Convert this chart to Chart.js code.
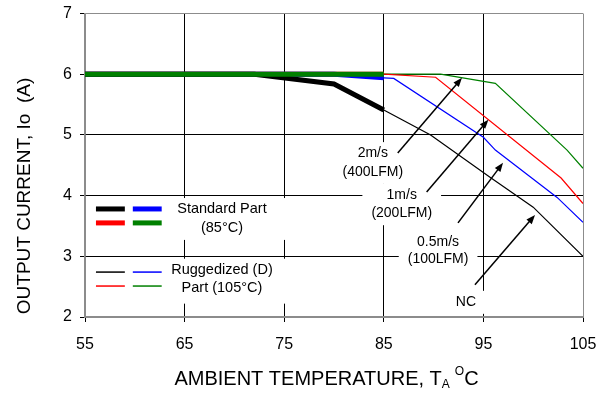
<!DOCTYPE html>
<html>
<head>
<meta charset="utf-8">
<script src="https://cdn.jsdelivr.net/npm/chart.js@4.4.0/dist/chart.umd.min.js"></script>
<style>
    html, body { margin: 0; padding: 0; background: #fff; }
    #wrap { width: 611px; height: 393px; }
</style>
</head>
<body>
<div id="wrap"><canvas id="deratingChart" width="611" height="393"></canvas></div>
<script>
// ambient temperature (C) / output current (A)
const stdNcTemp = [55, 72, 80, 85];
const stdNcAmps = [6, 6, 5.84, 5.41];
const stdBlueTemp = [55, 80, 85];
const stdBlueAmps = [6, 6, 5.94];
const stdRedTemp = [55, 85];
const stdRedAmps = [6, 6];
const stdGreenTemp = [55, 85];
const stdGreenAmps = [6, 6];

const rugNcTemp = [85, 89.7, 95.7, 100, 105];
const rugNcAmps = [5.41, 5.0, 4.3, 3.81, 3.0];
const rugBlueTemp = [85, 86, 95, 96.2, 102.4, 105];
const rugBlueAmps = [5.94, 5.93, 4.96, 4.75, 3.97, 3.56];
const rugRedTemp = [85, 90.2, 102.8, 105];
const rugRedAmps = [6, 5.95, 4.29, 3.87];
const rugGreenTemp = [85, 90.7, 96.2, 103.4, 105];
const rugGreenAmps = [6, 6, 5.85, 4.75, 4.45];

const xTicks = [55, 65, 75, 85, 95, 105];
const yTicks = [2, 3, 4, 5, 6, 7];

// airflow call-outs: text lines, arrow tail -> head (data units)
const callouts = [
    { lines: ['2m/s', '(400LFM)'], x: 83.9, y: [4.70, 4.39], from: [86.4, 4.70], to: [92.85, 5.94] },
    { lines: ['1m/s', '(200LFM)'], x: 86.8, y: [4.01, 3.71], from: [89.3, 4.06], to: [95.5, 5.25] },
    { lines: ['0.5m/s', '(100LFM)'], x: 90.45, y: [3.24, 2.96], from: [92.45, 3.55], to: [96.97, 4.54] },
    { lines: ['NC'], x: 93.25, y: [2.25], from: [94.15, 2.53], to: [100.18, 3.68] }
];

const FONT = '"Liberation Sans", Arial, sans-serif';

function pts(xs, ys) {
    return xs.map((x, i) => ({ x: x, y: ys[i] }));
}

function line(label, xs, ys, color, width, order) {
    return {
        label: label,
        data: pts(xs, ys),
        borderColor: color,
        backgroundColor: color,
        borderWidth: width,
        pointRadius: 0,
        tension: 0,
        fill: false,
        order: order
    };
}

function drawText(ctx, txt, x, y, size, align) {
    ctx.font = size + 'px ' + FONT;
    ctx.fillStyle = '#000';
    ctx.textAlign = align || 'center';
    ctx.textBaseline = 'middle';
    ctx.fillText(txt, x, y);
}

const annotationPlugin = {
    id: 'annotations',
    beforeDatasetsDraw(chart) {
        const ctx = chart.ctx;
        const xs = chart.scales.x, ys = chart.scales.y;
        ctx.save();
        ctx.fillStyle = '#fff';
        // legend panels
        ctx.fillRect(xs.getPixelForValue(55.7), ys.getPixelForValue(3.96),
            xs.getPixelForValue(78.6) - xs.getPixelForValue(55.7), ys.getPixelForValue(3.27) - ys.getPixelForValue(3.96));
        ctx.fillRect(xs.getPixelForValue(55.7), ys.getPixelForValue(2.96),
            xs.getPixelForValue(78.6) - xs.getPixelForValue(55.7), ys.getPixelForValue(2.22) - ys.getPixelForValue(2.96));
        // call-out backgrounds
        ctx.font = '14px ' + FONT;
        callouts.forEach(c => {
            const w = Math.max.apply(null, c.lines.map(l => ctx.measureText(l).width));
            const cx = xs.getPixelForValue(c.x);
            const top = ys.getPixelForValue(c.y[0]) - 11;
            const bot = ys.getPixelForValue(c.y[c.y.length - 1]) + 12;
            ctx.fillStyle = '#fff';
            ctx.fillRect(cx - w / 2 - 9, top, w + 18, bot - top);
        });
        ctx.restore();
    },
    afterDatasetsDraw(chart) {
        const ctx = chart.ctx;
        const xs = chart.scales.x, ys = chart.scales.y;
        const px = v => xs.getPixelForValue(v);
        const py = v => ys.getPixelForValue(v);
        ctx.save();

        callouts.forEach(c => {
            c.lines.forEach((l, i) => drawText(ctx, l, px(c.x), py(c.y[i]), 14));
            const x1 = px(c.from[0]), y1 = py(c.from[1]);
            const x2 = px(c.to[0]), y2 = py(c.to[1]);
            const ang = Math.atan2(y2 - y1, x2 - x1);
            ctx.strokeStyle = '#000';
            ctx.lineWidth = 1.5;
            ctx.beginPath();
            ctx.moveTo(x1, y1);
            ctx.lineTo(x2 - 6 * Math.cos(ang), y2 - 6 * Math.sin(ang));
            ctx.stroke();
            ctx.fillStyle = '#000';
            ctx.beginPath();
            ctx.moveTo(x2, y2);
            ctx.lineTo(x2 - 9 * Math.cos(ang) + 3.5 * Math.sin(ang), y2 - 9 * Math.sin(ang) - 3.5 * Math.cos(ang));
            ctx.lineTo(x2 - 9 * Math.cos(ang) - 3.5 * Math.sin(ang), y2 - 9 * Math.sin(ang) + 3.5 * Math.cos(ang));
            ctx.closePath();
            ctx.fill();
        });

        // legend swatches
        const sw = (t0, t1, a, color, w) => {
            ctx.strokeStyle = color;
            ctx.lineWidth = w;
            ctx.beginPath();
            ctx.moveTo(px(t0), py(a));
            ctx.lineTo(px(t1), py(a));
            ctx.stroke();
        };
        sw(56.1, 59.0, 3.78, '#000', 5);
        sw(59.8, 62.7, 3.78, '#0000ff', 5);
        sw(56.1, 59.0, 3.55, '#ff0000', 5);
        sw(59.8, 62.7, 3.55, '#008000', 5);
        sw(56.1, 59.0, 2.74, '#000', 1.5);
        sw(59.8, 62.7, 2.74, '#0000ff', 1.5);
        sw(56.1, 59.0, 2.51, '#ff0000', 1.5);
        sw(59.8, 62.7, 2.51, '#008000', 1.5);
        drawText(ctx, 'Standard Part', px(68.75), py(3.78), 14.5);
        drawText(ctx, '(85°C)', px(68.75), py(3.47), 14.5);
        drawText(ctx, 'Ruggedized (D)', px(68.75), py(2.77), 14.5);
        drawText(ctx, 'Part (105°C)', px(68.75), py(2.48), 14.5);
        ctx.restore();
    },
    afterDraw(chart) {
        const ctx = chart.ctx;
        ctx.save();
        // y axis title
        ctx.translate(25, 196);
        ctx.rotate(-Math.PI / 2);
        drawText(ctx, 'OUTPUT CURRENT, Io  (A)', 0, 0, 19);
        ctx.restore();

        // x axis title with subscript / superscript
        ctx.save();
        ctx.fillStyle = '#000';
        ctx.textBaseline = 'alphabetic';
        ctx.textAlign = 'left';
        const main = 'AMBIENT TEMPERATURE, T';
        ctx.font = '20px ' + FONT;
        const wMain = ctx.measureText(main).width;
        ctx.font = '12px ' + FONT;
        const wSub = ctx.measureText('A').width;
        const wSup = ctx.measureText('O').width;
        ctx.font = '20px ' + FONT;
        const wC = ctx.measureText('C').width;
        const total = wMain + wSub + 5 + wSup + wC;
        let x = 326.5 - total / 2;
        const base = 385;
        ctx.fillText(main, x, base);
        x += wMain;
        ctx.font = '12px ' + FONT;
        ctx.fillText('A', x, base + 3);
        x += wSub + 5;
        ctx.fillText('O', x, base - 10);
        x += wSup;
        ctx.font = '20px ' + FONT;
        ctx.fillText('C', x, base);
        ctx.restore();
    }
};

function gridColor(edges) {
    return c => edges.indexOf(c.tick.value) >= 0 ? '#8c8c8c' : '#000';
}

new Chart(document.getElementById('deratingChart'), {
    type: 'line',
    data: {
        datasets: [
            line('Std 2m/s', stdGreenTemp, stdGreenAmps, '#008000', 5, 1),
            line('Std NC', stdNcTemp, stdNcAmps, '#000', 5, 2),
            line('Std 0.5m/s', stdBlueTemp, stdBlueAmps, '#0000ff', 5, 3),
            line('Std 1m/s', stdRedTemp, stdRedAmps, '#ff0000', 5, 4),
            line('Rug NC', rugNcTemp, rugNcAmps, '#000', 1.2, 5),
            line('Rug 0.5m/s', rugBlueTemp, rugBlueAmps, '#0000ff', 1.2, 6),
            line('Rug 1m/s', rugRedTemp, rugRedAmps, '#ff0000', 1.2, 7),
            line('Rug 2m/s', rugGreenTemp, rugGreenAmps, '#008000', 1.2, 8)
        ]
    },
    options: {
        responsive: false,
        animation: false,
        events: [],
        layout: { padding: { left: 0, right: 28, top: 13.5, bottom: 0 } },
        plugins: {
            legend: { display: false },
            tooltip: { enabled: false }
        },
        scales: {
            x: {
                type: 'linear',
                min: 55,
                max: 105,
                afterBuildTicks: s => { s.ticks = xTicks.map(v => ({ value: v })); },
                afterFit: s => { s.height = 76; s.paddingLeft = 0; s.paddingRight = 0; },
                ticks: { color: '#000', font: { family: FONT, size: 16 }, padding: 13, maxRotation: 0 },
                grid: { color: gridColor([55, 105]), tickColor: '#000', lineWidth: 1, tickLength: 5 },
                border: { color: '#8c8c8c', width: 1.5 }
            },
            y: {
                min: 2,
                max: 7,
                afterBuildTicks: s => { s.ticks = yTicks.map(v => ({ value: v })); },
                afterFit: s => { s.width = 85; s.paddingTop = 0; s.paddingBottom = 0; },
                ticks: { color: '#000', font: { family: FONT, size: 16 }, padding: 8 },
                grid: { color: gridColor([2, 7]), tickColor: '#000', lineWidth: 1, tickLength: 5 },
                border: { color: '#8c8c8c', width: 1.5 }
            }
        }
    },
    plugins: [annotationPlugin]
});
</script>
</body>
</html>
